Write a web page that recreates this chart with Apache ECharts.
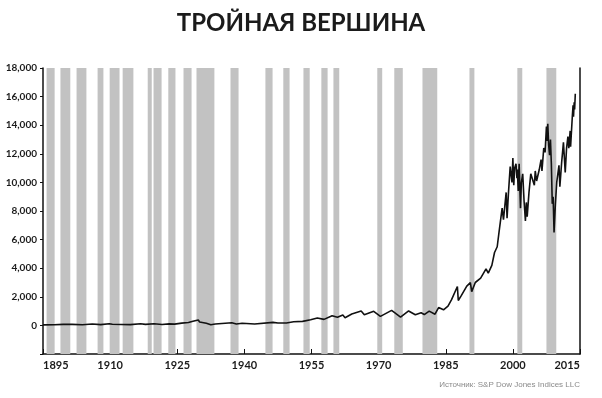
<!DOCTYPE html>
<html>
<head>
<meta charset="utf-8">
<script src="https://cdn.jsdelivr.net/npm/echarts@6/dist/echarts.min.js"></script>
<style>
  html, body { margin: 0; padding: 0; background: #fff; }
  #chart { width: 602px; height: 398px; }
</style>
</head>
<body>
<div id="chart"></div>
<script>
// индекс Доу-Джонса, значения
const years = [
  1895.0, 1897.5, 1899.5, 1901.5, 1903.8, 1906.0, 1907.9, 1909.8, 1910.5, 1914.5,
  1916.8, 1917.9, 1919.8, 1921.6, 1923.2, 1924.4, 1926.0, 1927.5, 1928.5, 1929.7,
  1930.0, 1930.4, 1931.5, 1932.5, 1933.5, 1937.2, 1938.2, 1939.5, 1942.3, 1946.4,
  1947.5, 1949.4, 1951.0, 1953.0, 1954.8, 1956.3, 1957.8, 1959.6, 1960.8, 1962.0,
  1962.5, 1964.0, 1966.1, 1966.8, 1968.9, 1970.4, 1972.9, 1974.9, 1976.7, 1978.2,
  1979.5, 1980.2, 1981.3, 1982.6, 1983.4, 1984.5, 1985.5, 1986.3, 1987.6, 1987.8,
  1988.5, 1989.7, 1990.5, 1990.8, 1991.6, 1992.8, 1994.0, 1994.5, 1995.3, 1995.9,
  1996.5, 1996.9, 1997.6, 1997.9, 1998.5, 1998.7, 1999.0, 1999.4, 1999.8, 2000.0,
  2000.2, 2000.4, 2000.7, 2000.9, 2001.0, 2001.2, 2001.4, 2001.7, 2001.9, 2002.2,
  2002.5, 2002.8, 2003.0, 2003.2, 2003.6, 2004.0, 2004.5, 2004.8, 2005.0, 2005.3,
  2005.9, 2006.3, 2006.5, 2006.9, 2007.2, 2007.5, 2007.6, 2007.8, 2008.0, 2008.2,
  2008.4, 2008.6, 2008.8, 2009.0, 2009.2, 2009.5, 2009.8, 2010.3, 2010.5, 2010.9,
  2011.3, 2011.6, 2011.7, 2012.0, 2012.3, 2012.5, 2012.8, 2012.9, 2013.3, 2013.45,
  2013.55, 2013.7, 2013.8, 2013.95
]
const dow = [
  40, 45, 75, 70, 45, 100, 55, 120, 80, 55,
  110, 70, 115, 65, 105, 90, 160, 200, 290, 380,
  240, 290, 150, 45, 100, 190, 100, 150, 95, 210,
  170, 165, 250, 280, 400, 520, 420, 680, 570, 730,
  540, 800, 1000, 740, 985, 630, 1050, 580, 1010, 740,
  880, 760, 1000, 780, 1250, 1090, 1350, 1800, 2720, 1740,
  2100, 2750, 2990, 2360, 3000, 3300, 3950, 3650, 4200, 5100,
  5500, 6500, 8200, 7400, 9300, 7500, 9200, 11100, 10000, 11700,
  9800, 11000, 11300, 10300, 10900, 9400, 11300, 8200, 10000, 10600,
  8700, 7300, 8600, 7600, 9300, 10600, 10100, 9800, 10800, 10100,
  10900, 11600, 10800, 12400, 12100, 13900, 12900, 14100, 12600, 11900,
  13000, 11300, 8500, 9000, 6500, 8500, 10000, 11200, 9700, 11400,
  12800, 12700, 10700, 12400, 13200, 12400, 13600, 12500, 14700, 15400,
  14600, 15600, 15100, 16200
]

// рецессии (серые полосы)
const recStart = [1895.8, 1898.9, 1902.5, 1907.2, 1909.9, 1912.8, 1918.4, 1919.7, 1923.0, 1926.4,
  1929.3, 1936.9, 1944.7, 1948.7, 1953.2, 1957.2, 1959.9, 1969.7, 1973.5, 1979.8,
  1990.3, 2001.0, 2007.5]
const recEnd = [1897.6, 1901.1, 1904.7, 1908.5, 1912.1, 1915.2, 1919.3, 1921.5, 1924.6, 1928.2,
  1933.3, 1938.7, 1946.3, 1950.1, 1954.6, 1958.6, 1961.2, 1970.8, 1975.4, 1983.1,
  1991.4, 2002.1, 2009.7]

const baseYear = 1895
const yearTicks = [1895, 1910, 1925, 1940, 1955, 1970, 1985, 2000, 2015]

const chart = echarts.init(document.getElementById('chart'), null, { renderer: 'canvas' })

const lineData = years.map((y, i) => [y - baseYear, dow[i]])
const areas = recStart.map((s, i) => [{ xAxis: s - baseYear }, { xAxis: recEnd[i] - baseYear }])

const option = {
  animation: false,
  title: {
    text: 'ТРОЙНАЯ ВЕРШИНА',
    left: 'center',
    top: 6,
    textStyle: { fontFamily: 'Lato', fontWeight: 'bold', fontSize: 24, color: '#1b1b1b' }
  },
  grid: { left: 43, right: 22, top: 68, bottom: 44 },
  xAxis: {
    type: 'value',
    min: 0,
    max: yearTicks[yearTicks.length - 1] - baseYear,
    interval: 15,
    splitLine: { show: false },
    axisLine: { onZero: false, lineStyle: { color: '#111', width: 1.5 } },
    axisTick: { inside: true, length: 5, lineStyle: { color: '#111', width: 1 } },
    axisLabel: {
      formatter: v => String(v + baseYear),
      alignMinLabel: 'left',
      alignMaxLabel: 'right',
      color: '#1b1b1b', fontFamily: 'Lato', fontWeight: 'bold', fontSize: 11, margin: 6
    }
  },
  yAxis: [{
    type: 'value',
    min: -2000,
    max: 18000,
    interval: 2000,
    splitLine: { show: false },
    axisLine: { show: true, lineStyle: { color: '#111', width: 1.5 } },
    axisTick: { show: true, length: 3, lineStyle: { color: '#111' } },
    axisLabel: {
      formatter: v => v < 0 ? '' : v.toLocaleString('en-US'),
      color: '#1b1b1b', fontFamily: 'Lato', fontWeight: 'bold', fontSize: 10, margin: 6
    }
  }, {
    type: 'value',
    position: 'right',
    min: -2000,
    max: 18000,
    splitLine: { show: false },
    axisLine: { show: true, lineStyle: { color: '#111', width: 1.5 } },
    axisTick: { show: false },
    axisLabel: { show: false }
  }],
  graphic: [{
    type: 'text',
    right: 22,
    top: 381,
    style: {
      text: 'Источник: S&P Dow Jones Indices LLC',
      fill: '#8a8a8a',
      font: '8px "Liberation Sans", Arial, sans-serif'
    }
  }],
  series: [{
    type: 'line',
    data: lineData,
    showSymbol: false,
    symbol: 'none',
    lineStyle: { color: '#111', width: 1.6 },
    z: 3,
    markArea: {
      silent: true,
      itemStyle: { color: '#c2c2c2' },
      data: areas
    }
  }]
}

chart.setOption(option)
</script>
</body>
</html>
